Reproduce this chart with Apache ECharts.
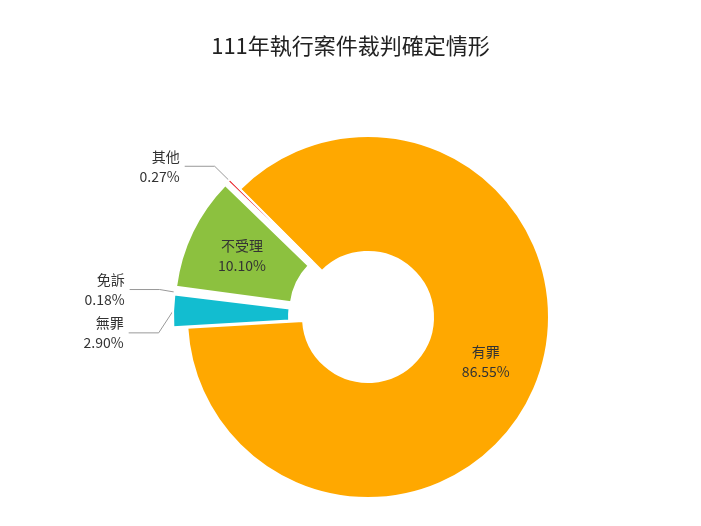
<!DOCTYPE html>
<html>
<head>
<meta charset="utf-8">
<script src="https://cdn.jsdelivr.net/npm/echarts@6/dist/echarts.min.js"></script>
<style>html,body{margin:0;padding:0;background:#fff}#chart{width:701px;height:526px}</style>
</head>
<body>
<div id="chart"></div>
<script>
const categories = ['有罪', '無罪', '免訴', '不受理', '其他'];
const percents = [86.55, 2.90, 0.18, 10.10, 0.27];
const colors = ['#FFA800', '#12BDD0', '#1F3570', '#8CC13F', '#E8141B'];

var myChart = echarts.init(document.getElementById('chart'));

const data = categories.map(function(name, i){
    const inside = name === '有罪' || name === '不受理';
    return {
        name: name,
        value: percents[i],
        selected: name !== '有罪',
        itemStyle: {color: colors[i]},
        label: {
            position: inside ? 'inside' : 'outside',
            color: '#333'
        },
        labelLine: {show: !inside}
    };
});

option = {
    title: {
        text: '111年執行案件裁判確定情形',
        left: 'center',
        top: 30,
        textStyle: {fontFamily: 'Noto Sans CJK TC', fontSize: 22, fontWeight: 'normal', color: '#222'}
    },
    animation: false,
    series: [{
        type: 'pie',
        center: [368, 317],
        radius: [65, 181],
        startAngle: 135,
        selectedMode: 'multiple',
        selectedOffset: 14,
        itemStyle: {borderColor: '#fff', borderWidth: 2},
        label: {
            formatter: function(p){ return p.name + '\n' + p.value.toFixed(2) + '%'; },
            fontFamily: 'Noto Sans CJK TC',
            fontSize: 14,
            lineHeight: 20
        },
        labelLine: {length: 20, length2: 30, lineStyle: {color: '#999'}},
        data: data
    }]
};

myChart.setOption(option, true);
</script>
</body>
</html>
